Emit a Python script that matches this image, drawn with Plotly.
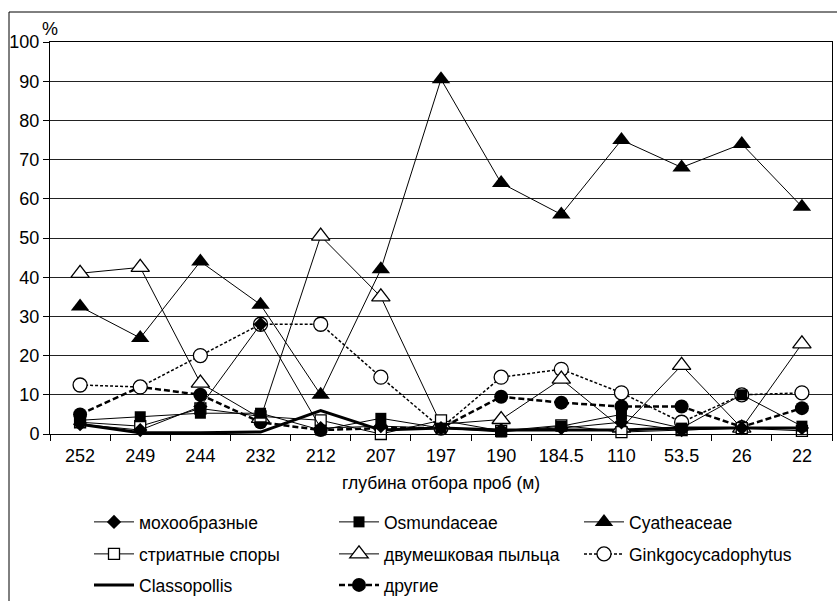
import plotly.graph_objects as go

categories = ["252", "249", "244", "232", "212", "207", "197", "190", "184.5", "110", "53.5", "26", "22"]

mohoobraznye = [2.5, 1, 7, 28, 1.5, 2, 1.5, 1, 1.5, 3, 1, 1.5, 1.5]
osmundaceae = [3.5, 4.4, 5.3, 5.3, 1, 4, 1.5, 0.5, 2, 5, 1.5, 10, 2]
cyatheaceae = [32.5, 24.5, 44, 33, 10, 42, 90.5, 64, 56, 75, 68, 74, 58]
striatnye = [3, 2, 6.5, 4.5, 3.5, 0, 3.5, 0.8, 2.2, 0.5, 1, 1.5, 0.8]
dvumeshkovaya = [41, 42.5, 13, 4, 50.5, 35, 2.5, 3.7, 14, 1.5, 17.5, 1.5, 23]
ginkgo = [12.5, 12, 20, 28, 28, 14.5, 1.5, 14.5, 16.5, 10.5, 3, 10, 10.5]
classopollis = [2.5, 0.3, 0.3, 0.5, 6, 1, 1.5, 1, 1, 1, 1.5, 1.5, 1.5]
drugie = [5, 12, 10, 3, 1, 1.5, 1.5, 9.5, 8, 7, 7, 1.8, 6.6]

FONT = "Liberation Sans, Arial, sans-serif"
W, H = 837, 601
L, R, T, B = 50, 5, 42, 167
PW, PH = W - L - R, H - T - B


def px(x):
    return (x - L) / PW


def py(y):
    return (H - B - y) / PH


fig = go.Figure()

open_line = dict(color="black", width=1.3)
series = [
    ("мохообразные", mohoobraznye, dict(symbol="diamond", size=11, color="black"), dict(color="black", width=1), "legend"),
    ("Osmundaceae", osmundaceae, dict(symbol="square", size=11, color="black"), dict(color="black", width=1), "legend"),
    ("Cyatheaceae", cyatheaceae, dict(symbol="triangle-up", size=16, color="black"), dict(color="black", width=1), "legend"),
    ("стриатные споры", striatnye, dict(symbol="square", size=11, color="white", line=open_line), dict(color="black", width=1), "legend2"),
    ("двумешковая пыльца", dvumeshkovaya, dict(symbol="triangle-up", size=16, color="white", line=open_line), dict(color="black", width=1), "legend2"),
    ("Ginkgocycadophytus", ginkgo, dict(symbol="circle", size=14, color="white", line=open_line), dict(color="black", width=1.5, dash="3px,2px"), "legend2"),
    ("Classopollis", classopollis, None, dict(color="black", width=3), "legend3"),
    ("другие", drugie, dict(symbol="circle", size=14, color="black"), dict(color="black", width=2.5, dash="6px,3px"), "legend3"),
]

# earlier series are drawn on top (as in the original), legend keeps the original order
for rank, (name, vals, marker, line, leg) in reversed(list(enumerate(series))):
    fig.add_trace(go.Scatter(
        x=categories, y=vals, name=name,
        mode="lines+markers" if marker else "lines",
        marker=marker, line=line, legend=leg, legendrank=rank + 1,
        cliponaxis=False,
    ))

leg_common = dict(
    orientation="h", xanchor="left", yanchor="middle", x=px(89),
    font=dict(family=FONT, size=17.5, color="black"),
    entrywidth=190, entrywidthmode="pixels", itemwidth=40,
    bgcolor="rgba(0,0,0,0)", borderwidth=0, traceorder="normal",
)

fig.update_layout(
    width=W, height=H,
    margin=dict(l=L, r=R, t=T, b=B, autoexpand=False),
    paper_bgcolor="white", plot_bgcolor="white",
    font=dict(family=FONT, size=18, color="black"),
    showlegend=True,
    legend=dict(leg_common, y=py(522)),
    legend2=dict(leg_common, y=py(554)),
    legend3=dict(leg_common, y=py(585)),
    xaxis=dict(
        type="category", range=[-0.5, 12.5], showgrid=False,
        showline=True, linecolor="black", linewidth=1, mirror=True,
        ticks="outside", tickson="boundaries", ticklen=6, tickcolor="black",
        ticklabelstandoff=5, automargin=False,
        tickfont=dict(family=FONT, size=18, color="black"),
    ),
    yaxis=dict(
        range=[0, 100], dtick=10, showgrid=True, gridcolor="#222222", gridwidth=1,
        showline=True, linecolor="black", linewidth=1, mirror=True,
        ticks="outside", ticklen=6, tickcolor="black", zeroline=False, automargin=False,
        tickfont=dict(family=FONT, size=18, color="black"),
    ),
    annotations=[
        dict(text="%", x=px(50), y=py(29), xref="paper", yref="paper",
             showarrow=False, xanchor="center", yanchor="middle",
             font=dict(family=FONT, size=18, color="black")),
        dict(text="глубина отбора проб (м)", x=0.5, y=py(483), xref="paper", yref="paper",
             showarrow=False, xanchor="center", yanchor="middle",
             font=dict(family=FONT, size=17.5, color="black")),
    ],
    shapes=[
        dict(type="rect", xref="paper", yref="paper",
             x0=px(9), x1=px(850), y0=py(12), y1=py(620),
             line=dict(color="black", width=1), fillcolor="rgba(0,0,0,0)", layer="below"),
    ],
)

fig.write_html("out.html")
